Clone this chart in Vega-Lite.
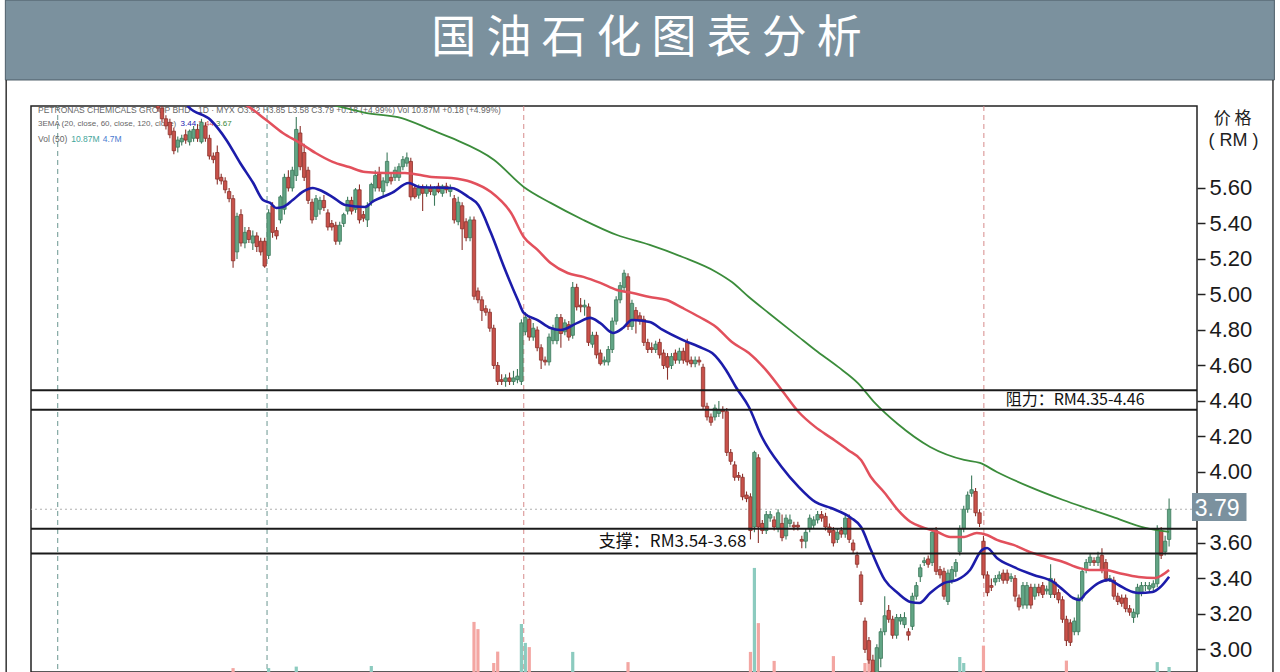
{
"$schema": "https://vega.github.io/schema/vega-lite/v6.json",
"width": 1166,
"height": 566,
"autosize": {"type": "none"},
"padding": {"left": 31, "top": 106, "right": 83, "bottom": 0},
"background": "#ffffff",
"config": {"view": {"stroke": "#222222", "strokeWidth": 1.5}},
"resolve": {"scale": {"y": "independent"}},
"datasets": {
"one": [{}],
"lv": [{"p":4.46},{"p":4.35},{"p":3.68},{"p":3.54}],
"sep": [{"i":-26.4},{"i":26.6},{"i":91.6},{"i":208.1}],
"k": [
{"i":-1,"o":6.10,"h":6.12,"l":6.03,"c":6.05},
{"i":0,"o":6.05,"h":6.07,"l":5.97,"c":5.99},
{"i":1,"o":5.99,"h":6.01,"l":5.93,"c":5.95},
{"i":2,"o":5.97,"h":5.99,"l":5.88,"c":5.90},
{"i":3,"o":5.92,"h":5.94,"l":5.79,"c":5.81},
{"i":4,"o":5.83,"h":5.89,"l":5.80,"c":5.87},
{"i":5,"o":5.86,"h":5.90,"l":5.84,"c":5.88},
{"i":6,"o":5.90,"h":5.93,"l":5.85,"c":5.87},
{"i":7,"o":5.86,"h":5.93,"l":5.84,"c":5.92},
{"i":8,"o":5.88,"h":5.95,"l":5.86,"c":5.93},
{"i":9,"o":5.93,"h":5.96,"l":5.86,"c":5.88},
{"i":10,"o":5.86,"h":5.99,"l":5.85,"c":5.97},
{"i":11,"o":5.95,"h":5.97,"l":5.86,"c":5.88},
{"i":12,"o":5.88,"h":5.90,"l":5.76,"c":5.78},
{"i":13,"o":5.78,"h":5.80,"l":5.74,"c":5.76},
{"i":14,"o":5.80,"h":5.84,"l":5.62,"c":5.65},
{"i":15,"o":5.66,"h":5.68,"l":5.62,"c":5.64},
{"i":16,"o":5.64,"h":5.66,"l":5.57,"c":5.59},
{"i":17,"o":5.58,"h":5.60,"l":5.52,"c":5.54},
{"i":18,"o":5.54,"h":5.56,"l":5.15,"c":5.19,"v":10.5},
{"i":19,"o":5.24,"h":5.46,"l":5.20,"c":5.44},
{"i":20,"o":5.45,"h":5.48,"l":5.27,"c":5.29},
{"i":21,"o":5.29,"h":5.38,"l":5.26,"c":5.35},
{"i":22,"o":5.36,"h":5.38,"l":5.29,"c":5.31},
{"i":23,"o":5.29,"h":5.36,"l":5.25,"c":5.33},
{"i":24,"o":5.33,"h":5.35,"l":5.24,"c":5.27},
{"i":25,"o":5.30,"h":5.32,"l":5.22,"c":5.24},
{"i":26,"o":5.30,"h":5.32,"l":5.15,"c":5.16},
{"i":27,"o":5.22,"h":5.48,"l":5.20,"c":5.46,"v":10.5},
{"i":28,"o":5.50,"h":5.52,"l":5.32,"c":5.35},
{"i":29,"o":5.36,"h":5.38,"l":5.31,"c":5.33},
{"i":30,"o":5.42,"h":5.56,"l":5.40,"c":5.55},
{"i":31,"o":5.48,"h":5.68,"l":5.45,"c":5.66},
{"i":32,"o":5.66,"h":5.70,"l":5.58,"c":5.60},
{"i":33,"o":5.60,"h":5.72,"l":5.58,"c":5.70},
{"i":34,"o":5.67,"h":6.00,"l":5.64,"c":5.93,"v":11},
{"i":35,"o":5.91,"h":5.95,"l":5.70,"c":5.72},
{"i":36,"o":5.80,"h":5.85,"l":5.64,"c":5.66},
{"i":37,"o":5.70,"h":5.72,"l":5.51,"c":5.53},
{"i":38,"o":5.52,"h":5.54,"l":5.40,"c":5.42},
{"i":39,"o":5.44,"h":5.56,"l":5.42,"c":5.54},
{"i":40,"o":5.48,"h":5.55,"l":5.45,"c":5.53},
{"i":41,"o":5.53,"h":5.56,"l":5.47,"c":5.49},
{"i":42,"o":5.46,"h":5.48,"l":5.36,"c":5.38},
{"i":43,"o":5.40,"h":5.42,"l":5.36,"c":5.38},
{"i":44,"o":5.39,"h":5.41,"l":5.28,"c":5.30},
{"i":45,"o":5.30,"h":5.41,"l":5.28,"c":5.39},
{"i":46,"o":5.40,"h":5.46,"l":5.38,"c":5.45},
{"i":47,"o":5.47,"h":5.55,"l":5.45,"c":5.53},
{"i":48,"o":5.53,"h":5.55,"l":5.45,"c":5.47},
{"i":49,"o":5.48,"h":5.60,"l":5.46,"c":5.59},
{"i":50,"o":5.59,"h":5.62,"l":5.40,"c":5.42},
{"i":51,"o":5.45,"h":5.47,"l":5.41,"c":5.43},
{"i":52,"o":5.42,"h":5.52,"l":5.38,"c":5.50},
{"i":53,"o":5.52,"h":5.63,"l":5.50,"c":5.62,"v":11.2},
{"i":54,"o":5.60,"h":5.70,"l":5.58,"c":5.67},
{"i":55,"o":5.68,"h":5.72,"l":5.58,"c":5.60},
{"i":56,"o":5.58,"h":5.66,"l":5.55,"c":5.64},
{"i":57,"o":5.63,"h":5.80,"l":5.61,"c":5.75},
{"i":58,"o":5.66,"h":5.69,"l":5.62,"c":5.64},
{"i":59,"o":5.66,"h":5.72,"l":5.64,"c":5.70},
{"i":60,"o":5.66,"h":5.74,"l":5.64,"c":5.72},
{"i":61,"o":5.72,"h":5.78,"l":5.70,"c":5.76},
{"i":62,"o":5.74,"h":5.80,"l":5.72,"c":5.77},
{"i":63,"o":5.75,"h":5.77,"l":5.53,"c":5.55},
{"i":64,"o":5.60,"h":5.62,"l":5.54,"c":5.55},
{"i":65,"o":5.56,"h":5.62,"l":5.54,"c":5.60},
{"i":66,"o":5.60,"h":5.62,"l":5.47,"c":5.57},
{"i":67,"o":5.57,"h":5.62,"l":5.55,"c":5.60},
{"i":68,"o":5.60,"h":5.62,"l":5.56,"c":5.58},
{"i":69,"o":5.56,"h":5.61,"l":5.50,"c":5.60},
{"i":70,"o":5.61,"h":5.63,"l":5.57,"c":5.58},
{"i":71,"o":5.57,"h":5.62,"l":5.55,"c":5.61},
{"i":72,"o":5.61,"h":5.63,"l":5.57,"c":5.59},
{"i":73,"o":5.58,"h":5.62,"l":5.55,"c":5.60},
{"i":74,"o":5.54,"h":5.56,"l":5.40,"c":5.42},
{"i":75,"o":5.41,"h":5.55,"l":5.39,"c":5.52},
{"i":76,"o":5.50,"h":5.52,"l":5.25,"c":5.37},
{"i":77,"o":5.41,"h":5.43,"l":5.30,"c":5.32},
{"i":78,"o":5.32,"h":5.44,"l":5.30,"c":5.42},
{"i":79,"o":5.42,"h":5.44,"l":4.97,"c":4.99,"v":25.9},
{"i":80,"o":5.02,"h":5.04,"l":4.95,"c":4.97,"v":23.5},
{"i":81,"o":4.97,"h":4.99,"l":4.85,"c":4.91},
{"i":82,"o":4.92,"h":4.94,"l":4.88,"c":4.90},
{"i":83,"o":4.90,"h":4.92,"l":4.79,"c":4.81},
{"i":84,"o":4.81,"h":4.83,"l":4.58,"c":4.60,"v":12.2},
{"i":85,"o":4.60,"h":4.62,"l":4.49,"c":4.51,"v":16},
{"i":86,"o":4.52,"h":4.55,"l":4.49,"c":4.51},
{"i":87,"o":4.51,"h":4.55,"l":4.48,"c":4.53},
{"i":88,"o":4.53,"h":4.56,"l":4.49,"c":4.51},
{"i":89,"o":4.51,"h":4.57,"l":4.49,"c":4.53},
{"i":90,"o":4.52,"h":4.58,"l":4.50,"c":4.54},
{"i":91,"o":4.51,"h":4.86,"l":4.49,"c":4.84,"v":25.2},
{"i":92,"o":4.79,"h":4.90,"l":4.77,"c":4.87,"v":18.9},
{"i":93,"o":4.86,"h":4.88,"l":4.74,"c":4.76,"v":17.5},
{"i":94,"o":4.76,"h":4.84,"l":4.74,"c":4.81},
{"i":95,"o":4.80,"h":4.82,"l":4.68,"c":4.70},
{"i":96,"o":4.70,"h":4.72,"l":4.58,"c":4.63},
{"i":97,"o":4.63,"h":4.65,"l":4.60,"c":4.62},
{"i":98,"o":4.62,"h":4.78,"l":4.60,"c":4.76},
{"i":99,"o":4.74,"h":4.83,"l":4.72,"c":4.81},
{"i":100,"o":4.74,"h":4.89,"l":4.72,"c":4.87},
{"i":101,"o":4.87,"h":4.89,"l":4.70,"c":4.78},
{"i":102,"o":4.79,"h":4.86,"l":4.77,"c":4.84},
{"i":103,"o":4.83,"h":4.85,"l":4.74,"c":4.76},
{"i":104,"o":4.77,"h":5.07,"l":4.75,"c":5.04,"v":15.9},
{"i":105,"o":5.04,"h":5.06,"l":4.91,"c":4.93},
{"i":106,"o":4.94,"h":4.98,"l":4.90,"c":4.93},
{"i":107,"o":4.93,"h":4.97,"l":4.88,"c":4.94},
{"i":108,"o":4.93,"h":4.95,"l":4.71,"c":4.73},
{"i":109,"o":4.72,"h":4.79,"l":4.70,"c":4.77},
{"i":110,"o":4.77,"h":4.79,"l":4.64,"c":4.66},
{"i":111,"o":4.67,"h":4.69,"l":4.60,"c":4.61},
{"i":112,"o":4.62,"h":4.65,"l":4.60,"c":4.63},
{"i":113,"o":4.62,"h":4.71,"l":4.60,"c":4.69},
{"i":114,"o":4.69,"h":4.87,"l":4.67,"c":4.85},
{"i":115,"o":4.85,"h":4.99,"l":4.83,"c":4.97},
{"i":116,"o":4.97,"h":5.07,"l":4.95,"c":5.05},
{"i":117,"o":5.04,"h":5.14,"l":5.02,"c":5.12},
{"i":118,"o":5.10,"h":5.12,"l":4.80,"c":4.82,"v":12.5},
{"i":119,"o":4.82,"h":4.97,"l":4.80,"c":4.95},
{"i":120,"o":4.91,"h":4.93,"l":4.78,"c":4.86},
{"i":121,"o":4.88,"h":4.90,"l":4.83,"c":4.85},
{"i":122,"o":4.86,"h":4.88,"l":4.71,"c":4.73},
{"i":123,"o":4.73,"h":4.75,"l":4.67,"c":4.69},
{"i":124,"o":4.70,"h":4.73,"l":4.67,"c":4.69},
{"i":125,"o":4.69,"h":4.74,"l":4.67,"c":4.72},
{"i":126,"o":4.73,"h":4.75,"l":4.64,"c":4.66},
{"i":127,"o":4.67,"h":4.69,"l":4.58,"c":4.60},
{"i":128,"o":4.65,"h":4.67,"l":4.52,"c":4.59},
{"i":129,"o":4.60,"h":4.67,"l":4.58,"c":4.65},
{"i":130,"o":4.67,"h":4.69,"l":4.61,"c":4.63},
{"i":131,"o":4.63,"h":4.70,"l":4.61,"c":4.68},
{"i":132,"o":4.68,"h":4.70,"l":4.61,"c":4.63},
{"i":133,"o":4.73,"h":4.75,"l":4.60,"c":4.62},
{"i":134,"o":4.63,"h":4.65,"l":4.59,"c":4.61},
{"i":135,"o":4.61,"h":4.65,"l":4.59,"c":4.63},
{"i":136,"o":4.63,"h":4.65,"l":4.60,"c":4.62},
{"i":137,"o":4.59,"h":4.61,"l":4.35,"c":4.37},
{"i":138,"o":4.37,"h":4.39,"l":4.29,"c":4.31},
{"i":139,"o":4.31,"h":4.33,"l":4.26,"c":4.28},
{"i":140,"o":4.31,"h":4.38,"l":4.29,"c":4.36},
{"i":141,"o":4.33,"h":4.40,"l":4.31,"c":4.35},
{"i":142,"o":4.35,"h":4.37,"l":4.30,"c":4.34},
{"i":143,"o":4.34,"h":4.36,"l":4.09,"c":4.11},
{"i":144,"o":4.11,"h":4.13,"l":4.04,"c":4.06},
{"i":145,"o":4.04,"h":4.06,"l":3.95,"c":3.97},
{"i":146,"o":3.98,"h":4.00,"l":3.95,"c":3.97},
{"i":147,"o":3.97,"h":3.99,"l":3.84,"c":3.86},
{"i":148,"o":3.87,"h":3.89,"l":3.83,"c":3.85},
{"i":149,"o":3.86,"h":3.88,"l":3.62,"c":3.67,"v":15.9},
{"i":150,"o":3.69,"h":4.12,"l":3.66,"c":4.11,"v":43.9},
{"i":151,"o":4.08,"h":4.10,"l":3.60,"c":3.69,"v":25.5},
{"i":152,"o":3.71,"h":3.73,"l":3.65,"c":3.67},
{"i":153,"o":3.67,"h":3.78,"l":3.65,"c":3.76},
{"i":154,"o":3.74,"h":3.78,"l":3.72,"c":3.76},
{"i":155,"o":3.73,"h":3.75,"l":3.67,"c":3.69,"v":12.9},
{"i":156,"o":3.68,"h":3.79,"l":3.66,"c":3.77},
{"i":157,"o":3.71,"h":3.76,"l":3.61,"c":3.63},
{"i":158,"o":3.64,"h":3.76,"l":3.62,"c":3.74},
{"i":159,"o":3.71,"h":3.76,"l":3.69,"c":3.73},
{"i":160,"o":3.70,"h":3.72,"l":3.67,"c":3.69},
{"i":161,"o":3.70,"h":3.72,"l":3.67,"c":3.69},
{"i":162,"o":3.62,"h":3.64,"l":3.57,"c":3.61},
{"i":163,"o":3.61,"h":3.68,"l":3.57,"c":3.66},
{"i":164,"o":3.68,"h":3.76,"l":3.66,"c":3.74},
{"i":165,"o":3.70,"h":3.75,"l":3.68,"c":3.73},
{"i":166,"o":3.73,"h":3.78,"l":3.71,"c":3.76},
{"i":167,"o":3.76,"h":3.78,"l":3.72,"c":3.74},
{"i":168,"o":3.75,"h":3.77,"l":3.67,"c":3.69},
{"i":169,"o":3.69,"h":3.71,"l":3.64,"c":3.66},
{"i":170,"o":3.67,"h":3.69,"l":3.58,"c":3.60,"v":14.5},
{"i":171,"o":3.62,"h":3.68,"l":3.60,"c":3.66},
{"i":172,"o":3.67,"h":3.69,"l":3.63,"c":3.65},
{"i":173,"o":3.65,"h":3.76,"l":3.63,"c":3.74},
{"i":174,"o":3.74,"h":3.76,"l":3.60,"c":3.62},
{"i":175,"o":3.60,"h":3.62,"l":3.54,"c":3.56},
{"i":176,"o":3.53,"h":3.55,"l":3.46,"c":3.48},
{"i":177,"o":3.42,"h":3.44,"l":3.25,"c":3.27},
{"i":178,"o":3.16,"h":3.18,"l":2.98,"c":3.00,"v":12.2},
{"i":179,"o":3.05,"h":3.07,"l":2.92,"c":2.94,"v":13},
{"i":180,"o":2.94,"h":2.97,"l":2.82,"c":2.86,"v":12.5},
{"i":181,"o":2.86,"h":3.03,"l":2.82,"c":3.01},
{"i":182,"o":2.95,"h":3.12,"l":2.90,"c":3.10},
{"i":183,"o":3.10,"h":3.30,"l":3.08,"c":3.19},
{"i":184,"o":3.22,"h":3.25,"l":3.15,"c":3.17},
{"i":185,"o":3.17,"h":3.19,"l":3.06,"c":3.08},
{"i":186,"o":3.08,"h":3.20,"l":3.06,"c":3.18},
{"i":187,"o":3.16,"h":3.20,"l":3.14,"c":3.18},
{"i":188,"o":3.14,"h":3.21,"l":3.12,"c":3.18},
{"i":189,"o":3.10,"h":3.12,"l":3.05,"c":3.08},
{"i":190,"o":3.13,"h":3.32,"l":3.11,"c":3.30},
{"i":191,"o":3.30,"h":3.38,"l":3.28,"c":3.36},
{"i":192,"o":3.41,"h":3.48,"l":3.38,"c":3.46},
{"i":193,"o":3.49,"h":3.52,"l":3.47,"c":3.50},
{"i":194,"o":3.51,"h":3.53,"l":3.46,"c":3.48},
{"i":195,"o":3.49,"h":3.68,"l":3.47,"c":3.66},
{"i":196,"o":3.67,"h":3.69,"l":3.42,"c":3.44},
{"i":197,"o":3.45,"h":3.47,"l":3.40,"c":3.42},
{"i":198,"o":3.44,"h":3.46,"l":3.28,"c":3.30},
{"i":199,"o":3.27,"h":3.45,"l":3.25,"c":3.43},
{"i":200,"o":3.39,"h":3.47,"l":3.37,"c":3.45},
{"i":201,"o":3.44,"h":3.51,"l":3.41,"c":3.49},
{"i":202,"o":3.55,"h":3.70,"l":3.53,"c":3.68,"v":14.2},
{"i":203,"o":3.68,"h":3.81,"l":3.66,"c":3.79,"v":12.2},
{"i":204,"o":3.79,"h":3.89,"l":3.77,"c":3.87},
{"i":205,"o":3.88,"h":3.98,"l":3.86,"c":3.90},
{"i":206,"o":3.89,"h":3.91,"l":3.75,"c":3.77},
{"i":207,"o":3.77,"h":3.79,"l":3.69,"c":3.71},
{"i":208,"o":3.61,"h":3.64,"l":3.40,"c":3.42,"v":18},
{"i":209,"o":3.42,"h":3.44,"l":3.30,"c":3.32},
{"i":210,"o":3.36,"h":3.40,"l":3.33,"c":3.35},
{"i":211,"o":3.38,"h":3.42,"l":3.36,"c":3.40},
{"i":212,"o":3.40,"h":3.44,"l":3.38,"c":3.42},
{"i":213,"o":3.43,"h":3.45,"l":3.37,"c":3.39},
{"i":214,"o":3.43,"h":3.45,"l":3.37,"c":3.39},
{"i":215,"o":3.40,"h":3.43,"l":3.38,"c":3.41},
{"i":216,"o":3.40,"h":3.42,"l":3.27,"c":3.30},
{"i":217,"o":3.29,"h":3.31,"l":3.22,"c":3.24},
{"i":218,"o":3.25,"h":3.38,"l":3.23,"c":3.36},
{"i":219,"o":3.25,"h":3.38,"l":3.23,"c":3.36},
{"i":220,"o":3.35,"h":3.37,"l":3.23,"c":3.25},
{"i":221,"o":3.30,"h":3.37,"l":3.28,"c":3.35},
{"i":222,"o":3.35,"h":3.37,"l":3.30,"c":3.32},
{"i":223,"o":3.36,"h":3.38,"l":3.29,"c":3.31},
{"i":224,"o":3.33,"h":3.36,"l":3.31,"c":3.34},
{"i":225,"o":3.31,"h":3.48,"l":3.29,"c":3.40},
{"i":226,"o":3.38,"h":3.40,"l":3.29,"c":3.31},
{"i":227,"o":3.32,"h":3.34,"l":3.26,"c":3.28},
{"i":228,"o":3.28,"h":3.30,"l":3.15,"c":3.17},
{"i":229,"o":3.17,"h":3.19,"l":3.02,"c":3.05,"v":13},
{"i":230,"o":3.15,"h":3.17,"l":3.02,"c":3.04},
{"i":231,"o":3.10,"h":3.18,"l":3.08,"c":3.16},
{"i":232,"o":3.10,"h":3.31,"l":3.08,"c":3.29},
{"i":233,"o":3.29,"h":3.46,"l":3.27,"c":3.44},
{"i":234,"o":3.45,"h":3.51,"l":3.43,"c":3.49},
{"i":235,"o":3.49,"h":3.54,"l":3.47,"c":3.52},
{"i":236,"o":3.50,"h":3.52,"l":3.47,"c":3.49},
{"i":237,"o":3.49,"h":3.55,"l":3.47,"c":3.52},
{"i":238,"o":3.53,"h":3.57,"l":3.43,"c":3.45},
{"i":239,"o":3.49,"h":3.51,"l":3.38,"c":3.40},
{"i":240,"o":3.40,"h":3.42,"l":3.38,"c":3.40},
{"i":241,"o":3.39,"h":3.41,"l":3.28,"c":3.30},
{"i":242,"o":3.30,"h":3.32,"l":3.25,"c":3.27},
{"i":243,"o":3.29,"h":3.31,"l":3.24,"c":3.26},
{"i":244,"o":3.29,"h":3.31,"l":3.21,"c":3.23},
{"i":245,"o":3.23,"h":3.25,"l":3.19,"c":3.21},
{"i":246,"o":3.18,"h":3.23,"l":3.15,"c":3.21},
{"i":247,"o":3.20,"h":3.37,"l":3.18,"c":3.35},
{"i":248,"o":3.32,"h":3.38,"l":3.30,"c":3.36},
{"i":249,"o":3.36,"h":3.38,"l":3.33,"c":3.36},
{"i":250,"o":3.34,"h":3.38,"l":3.32,"c":3.36},
{"i":251,"o":3.35,"h":3.39,"l":3.33,"c":3.37},
{"i":252,"o":3.37,"h":3.70,"l":3.35,"c":3.68,"v":12.5},
{"i":253,"o":3.67,"h":3.69,"l":3.51,"c":3.53},
{"i":254,"o":3.55,"h":3.64,"l":3.53,"c":3.61},
{"i":255,"o":3.62,"h":3.85,"l":3.58,"c":3.79,"v":10.87}
],
"ema20": [{"i":5.0,"p":6.107},{"i":6.8,"p":6.056},{"i":12.3,"p":5.983},{"i":16.3,"p":5.871},{"i":19.8,"p":5.741},{"i":23.1,"p":5.628},{"i":25.6,"p":5.532},{"i":27.4,"p":5.516},{"i":28.9,"p":5.487},{"i":30.6,"p":5.493},{"i":33.1,"p":5.532},{"i":35.6,"p":5.578},{"i":38.2,"p":5.600},{"i":39.9,"p":5.589},{"i":43.2,"p":5.549},{"i":46.4,"p":5.504},{"i":51.5,"p":5.493},{"i":53.2,"p":5.521},{"i":58.2,"p":5.572},{"i":62.5,"p":5.628},{"i":65.0,"p":5.606},{"i":73.3,"p":5.600},{"i":77.6,"p":5.549},{"i":80.1,"p":5.504},{"i":83.3,"p":5.346},{"i":86.6,"p":5.155},{"i":90.1,"p":4.969},{"i":91.6,"p":4.896},{"i":95.1,"p":4.856},{"i":98.4,"p":4.811},{"i":100.9,"p":4.800},{"i":105.2,"p":4.840},{"i":108.4,"p":4.868},{"i":110.9,"p":4.840},{"i":114.2,"p":4.783},{"i":116.7,"p":4.811},{"i":119.0,"p":4.856},{"i":123.5,"p":4.845},{"i":126.8,"p":4.800},{"i":131.8,"p":4.744},{"i":136.8,"p":4.698},{"i":139.3,"p":4.670},{"i":142.8,"p":4.575},{"i":145.3,"p":4.479},{"i":148.6,"p":4.366},{"i":151.9,"p":4.197},{"i":156.9,"p":4.028},{"i":161.2,"p":3.916},{"i":165.4,"p":3.831},{"i":169.4,"p":3.797},{"i":174.5,"p":3.741},{"i":177.0,"p":3.690},{"i":179.5,"p":3.560},{"i":183.0,"p":3.392},{"i":186.3,"p":3.318},{"i":189.5,"p":3.268},{"i":191.8,"p":3.262},{"i":194.5,"p":3.318},{"i":198.1,"p":3.375},{"i":201.3,"p":3.392},{"i":204.6,"p":3.448},{"i":207.6,"p":3.560},{"i":208.9,"p":3.572},{"i":211.4,"p":3.516},{"i":215.6,"p":3.465},{"i":220.7,"p":3.420},{"i":225.7,"p":3.380},{"i":228.2,"p":3.335},{"i":230.7,"p":3.290},{"i":232.2,"p":3.279},{"i":234.0,"p":3.318},{"i":237.2,"p":3.375},{"i":239.7,"p":3.392},{"i":242.2,"p":3.363},{"i":245.8,"p":3.324},{"i":247.3,"p":3.318},{"i":250.8,"p":3.324},{"i":252.8,"p":3.352},{"i":255.0,"p":3.410}],
"ema60": [{"i":16.8,"p":6.124},{"i":21.3,"p":6.068},{"i":26.4,"p":5.983},{"i":30.6,"p":5.910},{"i":34.9,"p":5.854},{"i":38.9,"p":5.797},{"i":43.2,"p":5.747},{"i":47.4,"p":5.718},{"i":51.5,"p":5.690},{"i":56.5,"p":5.685},{"i":61.5,"p":5.685},{"i":68.3,"p":5.662},{"i":73.3,"p":5.656},{"i":78.3,"p":5.634},{"i":83.3,"p":5.577},{"i":88.4,"p":5.459},{"i":91.6,"p":5.324},{"i":95.1,"p":5.251},{"i":98.4,"p":5.177},{"i":102.7,"p":5.121},{"i":106.7,"p":5.099},{"i":111.0,"p":5.065},{"i":115.2,"p":5.025},{"i":119.2,"p":5.008},{"i":123.5,"p":4.986},{"i":127.8,"p":4.969},{"i":131.8,"p":4.924},{"i":136.1,"p":4.873},{"i":140.3,"p":4.817},{"i":144.3,"p":4.732},{"i":148.6,"p":4.670},{"i":152.9,"p":4.575},{"i":156.9,"p":4.462},{"i":161.2,"p":4.338},{"i":165.4,"p":4.254},{"i":169.4,"p":4.192},{"i":173.7,"p":4.124},{"i":177.0,"p":4.068},{"i":179.5,"p":3.972},{"i":183.0,"p":3.882},{"i":186.3,"p":3.786},{"i":189.5,"p":3.719},{"i":193.0,"p":3.685},{"i":196.3,"p":3.662},{"i":199.6,"p":3.634},{"i":203.1,"p":3.634},{"i":206.3,"p":3.656},{"i":208.9,"p":3.645},{"i":211.4,"p":3.617},{"i":215.6,"p":3.589},{"i":219.7,"p":3.549},{"i":223.9,"p":3.521},{"i":228.2,"p":3.493},{"i":232.2,"p":3.459},{"i":234.7,"p":3.448},{"i":239.0,"p":3.448},{"i":242.2,"p":3.431},{"i":247.3,"p":3.408},{"i":251.5,"p":3.403},{"i":253.3,"p":3.420},{"i":255.0,"p":3.448}],
"ema120": [{"i":35.6,"p":6.107},{"i":44.4,"p":6.062},{"i":51.5,"p":6.023},{"i":60.7,"p":5.994},{"i":68.3,"p":5.927},{"i":73.3,"p":5.882},{"i":84.1,"p":5.758},{"i":91.6,"p":5.606},{"i":98.4,"p":5.516},{"i":106.7,"p":5.420},{"i":115.2,"p":5.335},{"i":123.5,"p":5.279},{"i":131.8,"p":5.211},{"i":140.3,"p":5.127},{"i":144.3,"p":5.070},{"i":148.6,"p":4.986},{"i":153.6,"p":4.896},{"i":161.2,"p":4.761},{"i":165.4,"p":4.687},{"i":171.2,"p":4.592},{"i":176.2,"p":4.501},{"i":180.5,"p":4.389},{"i":186.3,"p":4.270},{"i":194.5,"p":4.141},{"i":203.1,"p":4.068},{"i":207.1,"p":4.051},{"i":211.4,"p":4.000},{"i":219.7,"p":3.916},{"i":228.2,"p":3.842},{"i":234.0,"p":3.797},{"i":240.7,"p":3.747},{"i":249.0,"p":3.685},{"i":255.0,"p":3.662}]
},
"layer": [
{"data":{"name":"one"},"mark":{"type":"rect","fill":"#7b919e","stroke":"#4d5e68","strokeWidth":1},
 "encoding":{"x":{"datum":-39.66,"type":"quantitative","scale":{"domain":[-31.9,260.8],"nice":false,"zero":false},"axis":null},"x2":{"datum":281.66},
 "y":{"datum":6.659,"type":"quantitative","scale":{"domain":[2.873,6.062],"nice":false,"zero":false},"axis":null},"y2":{"datum":6.2085}}},
{"data":{"name":"one"},"mark":{"type":"text","text":"国 油 石 化 图 表 分 析","font":"Noto Sans CJK SC","fontSize":45,"color":"#ffffff","align":"center","baseline":"middle"},
 "encoding":{"x":{"datum":122.7,"type":"quantitative","scale":{"domain":[-31.9,260.8],"nice":false,"zero":false},"axis":null},
 "y":{"datum":6.4395,"type":"quantitative","scale":{"domain":[2.873,6.062],"nice":false,"zero":false},"axis":null}}},
{"data":{"name":"one"},"mark":{"type":"rule","color":"#333333","strokeWidth":1.5},
 "encoding":{"x":{"datum":-39.45,"type":"quantitative","scale":{"domain":[-31.9,260.8],"nice":false,"zero":false},"axis":null},
 "y":{"datum":6.2085,"type":"quantitative","scale":{"domain":[2.873,6.062],"nice":false,"zero":false},"axis":null},"y2":{"datum":2.873}}},
{"data":{"name":"one"},"mark":{"type":"rule","color":"#333333","strokeWidth":1.5},
 "encoding":{"x":{"datum":281.3,"type":"quantitative","scale":{"domain":[-31.9,260.8],"nice":false,"zero":false},"axis":null},
 "y":{"datum":6.2085,"type":"quantitative","scale":{"domain":[2.873,6.062],"nice":false,"zero":false},"axis":null},"y2":{"datum":2.873}}},
{"data":{"name":"sep"},"mark":{"type":"rule","strokeDash":[5,4],"strokeWidth":1},
 "encoding":{"x":{"field":"i","type":"quantitative","scale":{"domain":[-31.9,260.8],"nice":false,"zero":false},"axis":null},
 "color":{"condition":{"test":"datum.i < 50","value":"#6a9690"},"value":"#d68a8a"}}},
{"data":{"name":"one"},"mark":{"type":"rule","color":"#b0b0b0","strokeDash":[2,3],"strokeWidth":1},
 "encoding":{"y":{"datum":3.79,"type":"quantitative","scale":{"domain":[2.873,6.062],"nice":false,"zero":false},"axis":null}}},
{"data":{"name":"one"},"mark":{"type":"text","text":"PETRONAS CHEMICALS GROUP BHD · 1D · MYX  O3.62  H3.85  L3.58  C3.79  +0.18 (+4.99%)  Vol 10.87M  +0.18 (+4.99%)","font":"Liberation Sans","fontSize":8.5,"color":"#666666","align":"left","baseline":"middle"},
 "encoding":{"x":{"datum":-31.4,"type":"quantitative","scale":{"domain":[-31.9,260.8],"nice":false,"zero":false},"axis":null},
 "y":{"datum":6.040,"type":"quantitative","scale":{"domain":[2.873,6.062],"nice":false,"zero":false},"axis":null}}},
{"data":{"name":"one"},"mark":{"type":"text","text":"3EMA (20, close, 60, close, 120, close)","font":"Liberation Sans","fontSize":8,"color":"#666666","align":"left","baseline":"middle"},
 "encoding":{"x":{"datum":-31.4,"type":"quantitative","scale":{"domain":[-31.9,260.8],"nice":false,"zero":false},"axis":null},
 "y":{"datum":5.961,"type":"quantitative","scale":{"domain":[2.873,6.062],"nice":false,"zero":false},"axis":null}}},
{"data":{"name":"one"},"mark":{"type":"text","text":"3.44","font":"Liberation Sans","fontSize":8,"color":"#2020b0","align":"left","baseline":"middle"},
 "encoding":{"x":{"datum":4.7,"type":"quantitative","scale":{"domain":[-31.9,260.8],"nice":false,"zero":false},"axis":null},
 "y":{"datum":5.961,"type":"quantitative","scale":{"domain":[2.873,6.062],"nice":false,"zero":false},"axis":null}}},
{"data":{"name":"one"},"mark":{"type":"text","text":"3.44","font":"Liberation Sans","fontSize":8,"color":"#e0505a","align":"left","baseline":"middle"},
 "encoding":{"x":{"datum":9.2,"type":"quantitative","scale":{"domain":[-31.9,260.8],"nice":false,"zero":false},"axis":null},
 "y":{"datum":5.961,"type":"quantitative","scale":{"domain":[2.873,6.062],"nice":false,"zero":false},"axis":null}}},
{"data":{"name":"one"},"mark":{"type":"text","text":"3.67","font":"Liberation Sans","fontSize":8,"color":"#3a8a3a","align":"left","baseline":"middle"},
 "encoding":{"x":{"datum":13.7,"type":"quantitative","scale":{"domain":[-31.9,260.8],"nice":false,"zero":false},"axis":null},
 "y":{"datum":5.961,"type":"quantitative","scale":{"domain":[2.873,6.062],"nice":false,"zero":false},"axis":null}}},
{"data":{"name":"one"},"mark":{"type":"text","text":"Vol (50)","font":"Liberation Sans","fontSize":8.5,"color":"#666666","align":"left","baseline":"middle"},
 "encoding":{"x":{"datum":-31.4,"type":"quantitative","scale":{"domain":[-31.9,260.8],"nice":false,"zero":false},"axis":null},
 "y":{"datum":5.876,"type":"quantitative","scale":{"domain":[2.873,6.062],"nice":false,"zero":false},"axis":null}}},
{"data":{"name":"one"},"mark":{"type":"text","text":"10.87M","font":"Liberation Sans","fontSize":8.5,"color":"#3fa59a","align":"left","baseline":"middle"},
 "encoding":{"x":{"datum":-23.0,"type":"quantitative","scale":{"domain":[-31.9,260.8],"nice":false,"zero":false},"axis":null},
 "y":{"datum":5.876,"type":"quantitative","scale":{"domain":[2.873,6.062],"nice":false,"zero":false},"axis":null}}},
{"data":{"name":"one"},"mark":{"type":"text","text":"4.7M","font":"Liberation Sans","fontSize":8.5,"color":"#4a7bd0","align":"left","baseline":"middle"},
 "encoding":{"x":{"datum":-15.0,"type":"quantitative","scale":{"domain":[-31.9,260.8],"nice":false,"zero":false},"axis":null},
 "y":{"datum":5.876,"type":"quantitative","scale":{"domain":[2.873,6.062],"nice":false,"zero":false},"axis":null}}},
{"data":{"name":"k"},"transform":[{"filter":"isValid(datum.v) && datum.v > 9.2"}],
 "mark":{"type":"bar","size":3.2,"clip":true},
 "encoding":{"x":{"field":"i","type":"quantitative","scale":{"domain":[-31.9,260.8],"nice":false,"zero":false},"axis":null},
 "y":{"field":"v","type":"quantitative","scale":{"domain":[9.2,197.9],"nice":false,"zero":false},"axis":null},"y2":{"datum":9.2},
 "color":{"condition":{"test":"datum.c >= datum.o","value":"#8ccbbf"},"value":"#f3a6a2"}}},
{"data":{"name":"k"},"mark":{"type":"rule","strokeWidth":1.1,"clip":true},
 "encoding":{"x":{"field":"i","type":"quantitative","scale":{"domain":[-31.9,260.8],"nice":false,"zero":false},"axis":null},
 "y":{"field":"l","type":"quantitative","scale":{"domain":[2.873,6.062],"nice":false,"zero":false},"axis":null},"y2":{"field":"h"},
 "color":{"condition":{"test":"datum.c >= datum.o","value":"#3d7a5c"},"value":"#8c322c"}}},
{"data":{"name":"k"},"mark":{"type":"bar","size":3.4,"clip":true,"strokeWidth":0.8},
 "encoding":{"x":{"field":"i","type":"quantitative","scale":{"domain":[-31.9,260.8],"nice":false,"zero":false},"axis":null},
 "y":{"field":"o","type":"quantitative","scale":{"domain":[2.873,6.062],"nice":false,"zero":false},
  "axis":{"orient":"right","values":[3,3.2,3.4,3.6,4,4.2,4.4,4.6,4.8,5,5.2,5.4,5.6],"format":".2f","title":null,"grid":false,"domain":false,"ticks":true,"tickSize":8,"tickWidth":1.5,"tickColor":"#222222","labelFont":"Liberation Sans","labelFontSize":22,"labelColor":"#1a1a1a","labelPadding":4,"labelBaseline":"middle","labelFlush":false,"labelOverlap":false}},
 "y2":{"field":"c"},
 "fill":{"condition":{"test":"datum.c >= datum.o","value":"#62a585"},"value":"#c8514a"},
 "stroke":{"condition":{"test":"datum.c >= datum.o","value":"#3d7a5c"},"value":"#8c322c"}}},
{"data":{"name":"ema120"},"mark":{"type":"line","color":"#3b8c3b","strokeWidth":1.8,"clip":true,"interpolate":"monotone"},
 "encoding":{"x":{"field":"i","type":"quantitative","scale":{"domain":[-31.9,260.8],"nice":false,"zero":false},"axis":null},
 "y":{"field":"p","type":"quantitative","scale":{"domain":[2.873,6.062],"nice":false,"zero":false},"axis":null}}},
{"data":{"name":"ema60"},"mark":{"type":"line","color":"#e2505c","strokeWidth":2.5,"clip":true,"interpolate":"monotone"},
 "encoding":{"x":{"field":"i","type":"quantitative","scale":{"domain":[-31.9,260.8],"nice":false,"zero":false},"axis":null},
 "y":{"field":"p","type":"quantitative","scale":{"domain":[2.873,6.062],"nice":false,"zero":false},"axis":null}}},
{"data":{"name":"ema20"},"mark":{"type":"line","color":"#1c1caa","strokeWidth":2.6,"clip":true,"interpolate":"monotone"},
 "encoding":{"x":{"field":"i","type":"quantitative","scale":{"domain":[-31.9,260.8],"nice":false,"zero":false},"axis":null},
 "y":{"field":"p","type":"quantitative","scale":{"domain":[2.873,6.062],"nice":false,"zero":false},"axis":null}}},
{"data":{"name":"lv"},"mark":{"type":"rule","color":"#1a1a1a","strokeWidth":2},
 "encoding":{"y":{"field":"p","type":"quantitative","scale":{"domain":[2.873,6.062],"nice":false,"zero":false},"axis":null}}},
{"data":{"name":"one"},"mark":{"type":"text","text":"阻力：RM4.35-4.46","font":"Noto Sans CJK SC","fontSize":16,"color":"#111111","align":"center","baseline":"middle"},
 "encoding":{"x":{"datum":231.2,"type":"quantitative","scale":{"domain":[-31.9,260.8],"nice":false,"zero":false},"axis":null},
 "y":{"datum":4.403,"type":"quantitative","scale":{"domain":[2.873,6.062],"nice":false,"zero":false},"axis":null}}},
{"data":{"name":"one"},"mark":{"type":"text","text":"支撑：RM3.54-3.68","font":"Noto Sans CJK SC","fontSize":17,"color":"#111111","align":"center","baseline":"middle"},
 "encoding":{"x":{"datum":129.3,"type":"quantitative","scale":{"domain":[-31.9,260.8],"nice":false,"zero":false},"axis":null},
 "y":{"datum":3.606,"type":"quantitative","scale":{"domain":[2.873,6.062],"nice":false,"zero":false},"axis":null}}},
{"data":{"name":"one"},"mark":{"type":"rect","fill":"#7b919e"},
 "encoding":{"x":{"datum":260.8,"type":"quantitative","scale":{"domain":[-31.9,260.8],"nice":false,"zero":false},"axis":null},"x2":{"datum":274.6},
 "y":{"datum":3.882,"type":"quantitative","scale":{"domain":[2.873,6.062],"nice":false,"zero":false},"axis":null},"y2":{"datum":3.724}}},
{"data":{"name":"one"},"mark":{"type":"text","text":"3.79","font":"Liberation Sans","fontSize":23,"color":"#ffffff","align":"left","baseline":"middle"},
 "encoding":{"x":{"datum":261.5,"type":"quantitative","scale":{"domain":[-31.9,260.8],"nice":false,"zero":false},"axis":null},
 "y":{"datum":3.79,"type":"quantitative","scale":{"domain":[2.873,6.062],"nice":false,"zero":false},"axis":null}}},
{"data":{"name":"one"},"mark":{"type":"text","text":"价 格","font":"Noto Sans CJK SC","fontSize":17,"color":"#222222","align":"center","baseline":"middle"},
 "encoding":{"x":{"datum":271.1,"type":"quantitative","scale":{"domain":[-31.9,260.8],"nice":false,"zero":false},"axis":null},
 "y":{"datum":5.989,"type":"quantitative","scale":{"domain":[2.873,6.062],"nice":false,"zero":false},"axis":null}}},
{"data":{"name":"one"},"mark":{"type":"text","text":"( RM )","font":"Liberation Sans","fontSize":18,"color":"#222222","align":"center","baseline":"middle"},
 "encoding":{"x":{"datum":271.3,"type":"quantitative","scale":{"domain":[-31.9,260.8],"nice":false,"zero":false},"axis":null},
 "y":{"datum":5.865,"type":"quantitative","scale":{"domain":[2.873,6.062],"nice":false,"zero":false},"axis":null}}}
]
}
